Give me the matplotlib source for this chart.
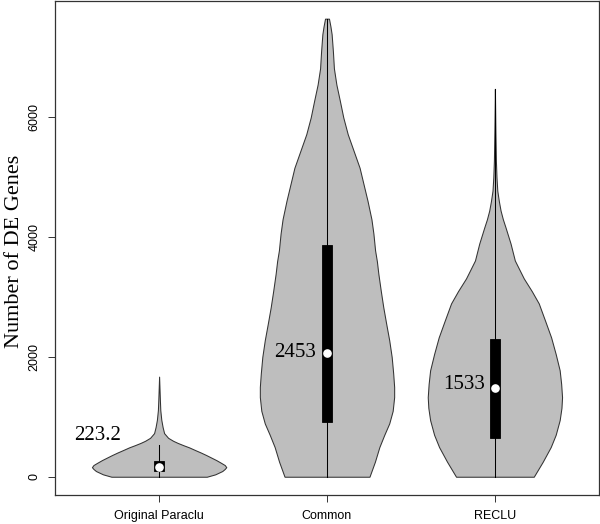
import numpy as np
import matplotlib.pyplot as plt

groups = ["Original Paraclu", "Common", "RECLU"]
positions = [1, 2, 3]

# violin outlines: value and relative half-width
para_val = [0, 40, 95, 130, 160, 195, 235, 278, 320, 362, 405, 445, 490, 528, 565, 600,
            650, 728, 830, 950, 1112, 1278, 1672]
para_den = [47.6, 56, 63, 65.5, 67, 65.5, 61.5, 57, 52, 47, 41.5, 36, 30, 24, 18.5, 14,
            9, 5, 3.5, 2.2, 1.2, 0.8, 0]

common_val = [0, 250, 495, 700, 890, 1100, 1330, 1500, 1730, 2000, 2280, 2550, 2830, 3100,
              3390, 3600, 3780, 4060, 4300, 4610, 4850, 5160, 5440, 5720, 6000, 6280, 6550,
              6820, 7100, 7390, 7520, 7650]
common_den = [43, 48.5, 53, 58, 63, 66.5, 68, 68, 67, 65.5, 63, 60, 57, 54.5,
              52, 50.5, 48.7, 47, 45, 41, 37.5, 33, 27, 21, 16.5, 13, 9.5,
              7, 6, 4.7, 3.5, 2]

reclu_val = [0, 250, 495, 700, 945, 1150, 1328, 1550, 1778, 2050, 2328, 2600, 2895, 3100,
             3312, 3445, 3612, 3895, 4162, 4300, 4445, 4600, 4778, 5000, 5278, 5778, 6478]
reclu_den = [39, 48, 56, 61, 65, 66.8, 67.4, 66.5, 65, 61, 56.4, 50.5, 44, 37,
             29, 25, 20, 15.7, 10.7, 8, 5.7, 4, 2.4, 1.6, 1, 0.5, 0]

q1 = [95, 917, 650]
q3 = [267, 3878, 2305]
medians = [167, 2062, 1478]
whisk_lo = [0, 0, 0]
whisk_hi = [533, 7650, 6478]

label_text = ["223.2", "2453", "1533"]
label_x = [0.632, 1.807, 2.816]
label_y = [695, 2078, 1545]

yticks = [0, 2000, 4000, 6000]

profiles = [(para_val, para_den), (common_val, common_den), (reclu_val, reclu_den)]

fig = plt.figure(figsize=(6, 5.24), dpi=100)
ax = fig.add_axes([55 / 600, 29 / 524, 544 / 600, 494 / 524])

for pos, (vals, dens) in zip(positions, profiles):
    vals = np.array(vals, dtype=float)
    dens = np.array(dens, dtype=float)
    w = 0.4 * dens / dens.max()
    ax.fill_betweenx(vals, pos - w, pos + w, facecolor="#bebebe",
                     edgecolor="#333333", linewidth=0.75, zorder=1)

for i, pos in enumerate(positions):
    ax.plot([pos, pos], [whisk_lo[i], whisk_hi[i]], color="black", lw=0.75, zorder=2)
    ax.add_patch(plt.Rectangle((pos - 0.0275, q1[i]), 0.055, q3[i] - q1[i],
                               facecolor="black", edgecolor="black", lw=0.6, zorder=3))
    ax.plot(pos, medians[i], "o", color="white", markersize=5.2, zorder=4)
    ax.text(label_x[i], label_y[i], label_text[i], ha="center", va="center",
            fontsize=15, family="Liberation Serif")

ax.set_xlim(0.38, 3.62)
ax.set_ylim(-305, 7945)
ax.set_xticks(positions)
ax.set_xticklabels(groups, family="Liberation Sans", fontsize=9)
ax.set_yticks(yticks)
ax.set_yticklabels([str(t) for t in yticks], family="Liberation Sans", fontsize=9,
                   rotation=90, va="center")
ax.tick_params(length=5, width=0.7, color="#333333", pad=5.5)

for s in ax.spines.values():
    s.set_color("#333333")
    s.set_linewidth(0.9)

fig.text(15 / 600, 1 - 251 / 524, "Number of DE Genes", rotation=90,
         ha="center", va="center", fontsize=16, family="Liberation Serif")

fig.savefig("out.png", dpi=100)
